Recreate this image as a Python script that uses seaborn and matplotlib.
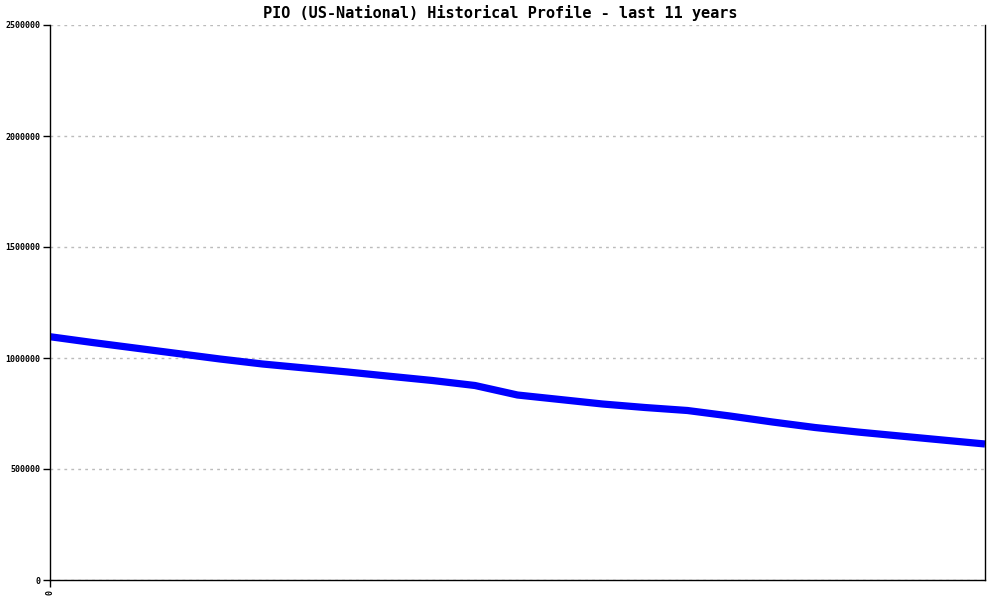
import matplotlib
matplotlib.use("Agg")
import matplotlib.pyplot as plt
import seaborn as sns
import pandas as pd

# Data (half-year steps over 11 years)
years = [i * 0.5 for i in range(23)]
values = [1095900, 1069800, 1045000, 1020300, 995500, 973000, 955000, 937000,
          917600, 898600, 876100, 833300, 813100, 792800, 777000, 763500,
          738700, 711700, 686900, 666700, 648600, 630600, 612600]
yticks = [0, 500000, 1000000, 1500000, 2000000, 2500000]
xtick_labels = ["0"]
title = "PIO (US-National) Historical Profile - last 11 years"

sns.set_style("white")
plt.rcParams['font.family'] = ['DejaVu Sans Mono', 'DejaVu Sans']
plt.rcParams['text.color'] = 'black'
plt.rcParams['xtick.color'] = 'black'
plt.rcParams['ytick.color'] = 'black'

df = pd.DataFrame({"year": years, "value": values})

fig = plt.figure(figsize=(10, 6), dpi=100)
ax = fig.add_axes([0.05, 1 - 580 / 600, 0.935, 555 / 600])

sns.lineplot(data=df, x="year", y="value", ax=ax, color="#0000ff",
             linewidth=5.2, solid_capstyle="butt", solid_joinstyle="round")

ax.set_xlim(0, 11)
ax.set_ylim(0, 2500000)
ax.set_yticks(yticks)
ax.set_yticklabels([str(v) for v in yticks], fontsize=6, fontweight="bold",
                   color="black")
ax.set_xticks([0])
ax.set_xticklabels(xtick_labels, rotation=90, fontsize=6, fontweight="bold",
                   color="black")
ax.set_xlabel("")
ax.set_ylabel("")

ax.yaxis.grid(True, color="#bbbbbb", linestyle=(0, (2, 3)), linewidth=1)
ax.xaxis.grid(False)
ax.set_axisbelow(True)

for side in ["left", "bottom", "right"]:
    ax.spines[side].set_visible(True)
    ax.spines[side].set_color("black")
    ax.spines[side].set_linewidth(1)
ax.spines["top"].set_visible(False)

ax.tick_params(axis="both", which="major", length=5, width=1, color="black",
               labelcolor="black", direction="out", left=True, bottom=True,
               pad=2)

fig.text(0.5, 1 - 13 / 600, title, ha="center", va="center",
         fontsize=11, fontweight="bold", color="black")

fig.savefig("out.png", dpi=100, facecolor="white")
